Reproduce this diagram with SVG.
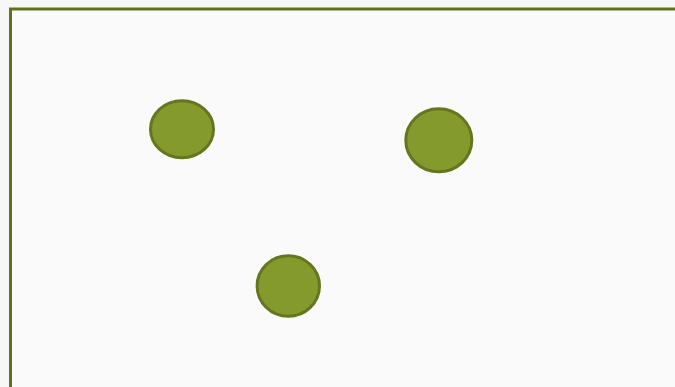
<svg xmlns="http://www.w3.org/2000/svg" width="675" height="387" viewBox="0 0 675 387">
<style>
.dot{fill:#849a2c;stroke:#65761f;stroke-width:3}
.frame{fill:none;stroke:#5f7020;stroke-width:3}
</style>
<rect x="0" y="0" width="675" height="387" fill="#f7f7f7"/>
<rect x="10.5" y="9" width="700" height="400" fill="#fafafa"/>
<path class="frame" d="M10.5,390 V9 H680"/>
<g id="node1"><ellipse class="dot" cx="182" cy="129.3" rx="31.5" ry="28.5"/></g>
<g id="node2"><ellipse class="dot" cx="438.8" cy="140.3" rx="33" ry="31.5"/></g>
<g id="node3"><ellipse class="dot" cx="288.3" cy="286" rx="31.2" ry="30.2"/></g>
<g id="connectors"></g>
</svg>
